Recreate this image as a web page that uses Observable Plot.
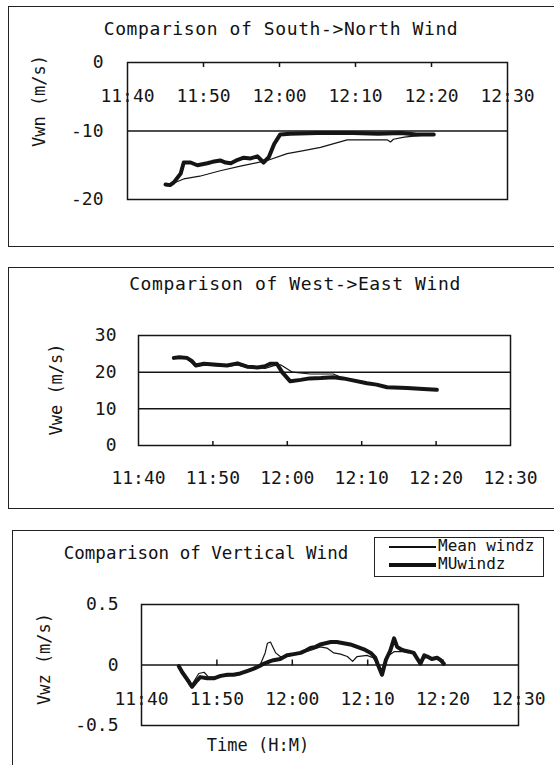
<!DOCTYPE html>
<html><head><meta charset="utf-8">
<script src="https://cdn.jsdelivr.net/npm/d3@7"></script>
<script src="https://cdn.jsdelivr.net/npm/@observablehq/plot@0.6"></script>
<style>
html,body{margin:0;padding:0;background:#fff;}
#page{position:relative;width:554px;height:765px;overflow:hidden;background:#fff;font-family:"DejaVu Sans Mono","Liberation Mono",monospace;color:#111;}
.panel{position:absolute;border:1.5px solid #222;box-sizing:border-box;}
.title{position:absolute;transform:translate(-50%,-50%);white-space:nowrap;font-size:18px;letter-spacing:0.6px;}
.plot{position:absolute;left:0;}
.legend{position:absolute;border:1.5px solid #222;box-sizing:border-box;background:#fff;}
.legend .ln{position:absolute;background:#111;}
.legend .lt{position:absolute;font-size:16px;line-height:16px;white-space:nowrap;}
</style></head><body><div id="page"></div>
<script>
// ---------- data (minutes after 11:40) ----------
const xTickMinutes = [0, 10, 20, 30, 40, 50];
const xTickLabels = ["11:40", "11:50", "12:00", "12:10", "12:20", "12:30"];

const titles = ["Comparison of South->North Wind", "Comparison of West->East Wind", "Comparison of Vertical Wind"];
const yLabels = ["Vwn (m/s)", "Vwe (m/s)", "Vwz (m/s)"];
const xLabel = "Time (H:M)";
const seriesNames = ["Mean windz", "MUwindz"];

// South -> North
const snYTicks = [0, -10, -20];
const snGrid = [-10];
const snMuTime = [5.0, 5.6, 6.1, 7.0, 7.4, 8.3, 9.2, 10.5, 11.2, 12.2, 12.9, 13.6, 14.5, 15.3, 16.2, 17.1, 17.9, 18.6, 19.3, 20.1, 21.4, 25.0, 29.7, 33.0, 36.0, 38.0, 40.3];
const snMuVal  = [-17.8, -17.9, -17.5, -16.2, -14.6, -14.6, -15.0, -14.7, -14.5, -14.3, -14.6, -14.7, -14.2, -13.9, -14.0, -13.7, -14.6, -13.8, -11.9, -10.5, -10.4, -10.3, -10.3, -10.4, -10.3, -10.5, -10.5];
const snMeanTime = [5.2, 7.4, 9.5, 12.2, 15.0, 18.4, 21.0, 23.0, 25.4, 28.9, 31.0, 34.2, 34.6, 35.0, 36.4, 38.0, 40.3];
const snMeanVal  = [-18.0, -17.0, -16.6, -15.8, -15.1, -14.3, -13.3, -12.9, -12.4, -11.3, -11.3, -11.3, -11.6, -11.2, -10.9, -10.7, -10.5];

// West -> East
const weYTicks = [30, 20, 10, 0];
const weGrid = [10, 20];
const weMuTime = [4.75, 5.5, 6.5, 7.2, 7.7, 8.8, 10.5, 11.9, 13.3, 14.6, 16.0, 17.0, 17.7, 18.6, 19.3, 20.4, 21.8, 23.0, 24.5, 26.2, 27.5, 28.5, 30.7, 32.0, 33.4, 36.1, 38.3, 40.1];
const weMuVal  = [23.9, 24.1, 23.9, 23.0, 21.8, 22.3, 22.0, 21.8, 22.4, 21.5, 21.3, 21.6, 22.3, 22.3, 20.0, 17.5, 17.9, 18.3, 18.4, 18.6, 18.3, 17.9, 17.0, 16.6, 15.9, 15.7, 15.4, 15.2];
const weMeanTime = [4.75, 6.5, 7.7, 8.8, 11.9, 13.3, 14.6, 16.0, 17.0, 18.2, 19.1, 20.7, 23.1, 26.2, 28.0, 29.8, 30.7, 33.4, 36.1, 38.3, 40.1];
const weMeanVal  = [23.7, 23.7, 21.6, 22.0, 21.6, 22.0, 21.3, 21.2, 21.0, 21.8, 22.0, 20.0, 19.5, 19.5, 17.9, 17.3, 17.1, 16.0, 15.8, 15.5, 15.3];

// Vertical
const vzYTicks = [0.5, 0, -0.5];
const vzMuTime = [4.95, 5.4, 6.3, 6.7, 7.2, 7.8, 8.7, 9.6, 10.5, 11.4, 12.2, 13.1, 14.0, 14.9, 15.6, 16.2, 17.0, 17.5, 18.4, 19.3, 20.2, 21.1, 21.8, 22.4, 23.1, 23.7, 24.4, 25.1, 25.9, 26.8, 27.7, 28.6, 29.5, 30.4, 31.0, 31.3, 31.9, 32.4, 33.0, 33.5, 33.9, 34.4, 34.8, 35.5, 36.1, 36.6, 37.0, 37.5, 37.9, 38.5, 39.2, 39.7, 40.1];
const vzMuVal  = [-0.01, -0.06, -0.14, -0.18, -0.14, -0.10, -0.11, -0.11, -0.09, -0.08, -0.08, -0.07, -0.05, -0.03, -0.01, 0.01, 0.03, 0.04, 0.05, 0.08, 0.09, 0.10, 0.12, 0.14, 0.15, 0.17, 0.18, 0.19, 0.19, 0.18, 0.17, 0.15, 0.13, 0.10, 0.06, 0.01, -0.08, 0.04, 0.12, 0.22, 0.15, 0.13, 0.12, 0.11, 0.10, 0.05, 0.01, 0.08, 0.07, 0.05, 0.06, 0.04, 0.01];
const vzMeanTime = [4.95, 5.7, 6.5, 7.6, 8.3, 8.9, 10.0, 11.4, 13.1, 14.9, 15.8, 16.4, 16.7, 17.1, 17.8, 18.4, 19.3, 21.1, 22.4, 23.7, 24.6, 25.5, 26.4, 27.3, 28.0, 28.6, 29.9, 30.7, 31.3, 31.9, 32.6, 33.5, 34.8, 36.1, 37.0, 37.9, 39.2, 40.1];
const vzMeanVal  = [-0.01, -0.10, -0.18, -0.07, -0.06, -0.10, -0.10, -0.09, -0.07, -0.03, 0.01, 0.10, 0.18, 0.19, 0.10, 0.07, 0.07, 0.10, 0.12, 0.15, 0.14, 0.10, 0.09, 0.07, 0.03, 0.07, 0.08, 0.06, 0.01, -0.09, 0.07, 0.11, 0.11, 0.10, 0.03, 0.07, 0.05, 0.01];

// ---------- helpers ----------
const FONT = '"DejaVu Sans Mono","Liberation Mono",monospace';
const INK = "#151515";
const zip = (ts, vs) => ts.map((t, i) => ({t, v: vs[i]}));
const fmtX = d => xTickLabels[xTickMinutes.indexOf(d)];
const fmtY = d => String(d);
const baseStyle = {fontFamily: FONT, fontSize: "18px", color: INK, background: "transparent", overflow: "visible"};

const page = document.getElementById("page");
function addDiv(cls, css, html) {
  const d = document.createElement("div");
  d.className = cls;
  Object.assign(d.style, css);
  if (html != null) d.textContent = html;
  page.appendChild(d);
  return d;
}
function place(svg, top) {
  svg.classList.add("plot");
  svg.style.position = "absolute";
  svg.style.top = top + "px";
  svg.style.left = "0px";
  page.appendChild(svg);
}

// panel frames
addDiv("panel", {left: "8px", top: "6px", width: "570px", height: "241px"});
addDiv("panel", {left: "8px", top: "267px", width: "570px", height: "242px"});
addDiv("panel", {left: "12px", top: "530px", width: "570px", height: "260px"});

// ---------- Panel 1 ----------
const p1 = Plot.plot({
  width: 554, height: 250,
  marginTop: 62, marginBottom: 51, marginLeft: 127, marginRight: 47,
  style: baseStyle,
  x: {domain: [0, 50], label: null},
  y: {domain: [-20, 0], label: null},
  marks: [
    Plot.gridY(snGrid, {stroke: INK, strokeOpacity: 1, strokeWidth: 1.5}),
    Plot.axisY(snYTicks, {tickSize: 0, tickPadding: 24, tickFormat: fmtY, label: null}),
    Plot.axisX(xTickMinutes, {anchor: "bottom", frameAnchor: "top", tickSize: 0, tickPadding: 27, tickFormat: fmtX, label: null}),
    Plot.axisX(xTickMinutes.slice(1, -1), {anchor: "bottom", frameAnchor: "top", tickSize: 5, tickFormat: () => "", strokeWidth: 1.5, label: null}),
    Plot.line(zip(snMeanTime, snMeanVal), {x: "t", y: "v", stroke: INK, strokeWidth: 1.2}),
    Plot.line(zip(snMuTime, snMuVal), {x: "t", y: "v", stroke: INK, strokeWidth: 4, strokeLinejoin: "round"}),
    Plot.frame({stroke: INK, strokeWidth: 1.5}),
    Plot.text([yLabels[0]], {text: d => d, frameAnchor: "left", textAnchor: "middle", lineAnchor: "middle", rotate: -90, fontSize: 17, dx: -88, dy: -30})
  ]
});
place(p1, 0);
addDiv("title", {left: "281px", top: "28px"}, titles[0]);

// ---------- Panel 2 ----------
const p2 = Plot.plot({
  width: 554, height: 250,
  marginTop: 80, marginBottom: 60, marginLeft: 138, marginRight: 44,
  style: baseStyle,
  x: {domain: [0, 50], label: null},
  y: {domain: [0, 30], label: null},
  marks: [
    Plot.gridY(weGrid, {stroke: INK, strokeOpacity: 1, strokeWidth: 1.5}),
    Plot.axisY(weYTicks, {tickSize: 0, tickPadding: 22, tickFormat: fmtY, label: null}),
    Plot.axisX(xTickMinutes, {anchor: "bottom", tickSize: 0, tickPadding: 26, tickFormat: fmtX, label: null}),
    Plot.axisX(xTickMinutes.slice(1, -1), {anchor: "top", frameAnchor: "bottom", tickSize: 5, tickFormat: () => "", strokeWidth: 1.5, label: null}),
    Plot.line(zip(weMeanTime, weMeanVal), {x: "t", y: "v", stroke: INK, strokeWidth: 1.2}),
    Plot.line(zip(weMuTime, weMuVal), {x: "t", y: "v", stroke: INK, strokeWidth: 4, strokeLinejoin: "round"}),
    Plot.frame({stroke: INK, strokeWidth: 1.5}),
    Plot.text([yLabels[1]], {text: d => d, frameAnchor: "left", textAnchor: "middle", lineAnchor: "middle", rotate: -90, fontSize: 17, dx: -82, dy: -1})
  ]
});
place(p2, 255);
addDiv("title", {left: "295px", top: "283px"}, titles[1]);

// ---------- Panel 3 ----------
const H3 = 235, MT3 = 74, MB3 = 40;
const mid3 = (H3 - MT3 - MB3) / 2;
const p3 = Plot.plot({
  width: 554, height: H3,
  marginTop: MT3, marginBottom: MB3, marginLeft: 141, marginRight: 36,
  style: baseStyle,
  x: {domain: [0, 50], label: null},
  y: {domain: [-0.5, 0.5], label: null},
  marks: [
    Plot.ruleY([0], {stroke: INK, strokeWidth: 1.5}),
    Plot.axisY(vzYTicks, {tickSize: 0, tickPadding: 23, tickFormat: fmtY, label: null}),
    Plot.axisX(xTickMinutes, {anchor: "bottom", frameAnchor: "bottom", dy: -mid3, tickSize: 0, tickPadding: 27, tickFormat: fmtX, label: null}),
    Plot.axisX(xTickMinutes.slice(1, -1), {anchor: "top", frameAnchor: "bottom", dy: -mid3, tickSize: 6, tickFormat: () => "", strokeWidth: 1.5, label: null}),
    Plot.line(zip(vzMeanTime, vzMeanVal), {x: "t", y: "v", stroke: INK, strokeWidth: 1.2}),
    Plot.line(zip(vzMuTime, vzMuVal), {x: "t", y: "v", stroke: INK, strokeWidth: 4, strokeLinejoin: "round"}),
    Plot.frame({stroke: INK, strokeWidth: 1.5}),
    Plot.text([yLabels[2]], {text: d => d, frameAnchor: "left", textAnchor: "middle", lineAnchor: "middle", rotate: -90, fontSize: 17, dx: -97, dy: -6}),
    Plot.text([xLabel], {text: d => d, frameAnchor: "bottom", textAnchor: "middle", lineAnchor: "middle", fontSize: 17, dx: -72, dy: 20})
  ]
});
place(p3, 530);
addDiv("title", {left: "206px", top: "553px", letterSpacing: "0px", fontSize: "17.5px"}, titles[2]);

// legend
const lg = addDiv("legend", {left: "374px", top: "537px", width: "170px", height: "40px"});
function lgRow(y, thick, name) {
  const l = document.createElement("div");
  l.className = "ln";
  Object.assign(l.style, {left: "14px", width: "47px", top: (y - thick / 2) + "px", height: thick + "px"});
  lg.appendChild(l);
  const t = document.createElement("div");
  t.className = "lt";
  Object.assign(t.style, {left: "63px", top: (y - 9) + "px"});
  t.textContent = name;
  lg.appendChild(t);
}
lgRow(9, 1.2, seriesNames[0]);
lgRow(27, 3.5, seriesNames[1]);
</script></body></html>
